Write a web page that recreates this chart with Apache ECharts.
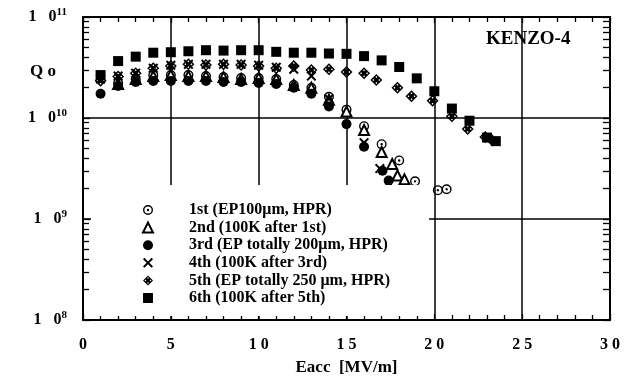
<!DOCTYPE html>
<html>
<head>
<meta charset="utf-8">
<script src="https://cdn.jsdelivr.net/npm/echarts@6/dist/echarts.min.js"></script>
<style>
  html, body {margin: 0; padding: 0; background: #fff;}
  #chart {width: 640px; height: 381px;}
</style>
</head>
<body>
<div id="chart"></div>
<script>
// Eacc [MV/m] and Qo for each test
const names = [
    '1st (EP100\u03bcm, HPR)',
    '2nd (100K after 1st)',
    '3rd (EP totally 200\u03bcm, HPR)',
    '4th (100K after 3rd)',
    '5th (EP totally 250 \u03bcm, HPR)',
    '6th (100K after 5th)'
];
const e1 = [2, 3, 4, 5, 6, 7, 8, 9, 10, 11, 12, 13, 14, 15, 16, 17, 18, 18.9, 20.2, 20.7];
const q1 = [2.22e10, 2.43e10, 2.66e10, 2.66e10, 2.66e10, 2.60e10, 2.54e10, 2.49e10, 2.49e10, 2.43e10,
    2.12e10, 1.99e10, 1.62e10, 1.21e10, 8.3e9, 5.5e9, 3.8e9, 2.36e9, 1.93e9, 1.97e9];
const e2 = [2, 3, 4, 5, 6, 7, 8, 9, 10, 11, 12, 13, 14, 15, 16, 17, 17.6, 17.9, 18.3];
const q2 = [2.17e10, 2.43e10, 2.60e10, 2.66e10, 2.60e10, 2.60e10, 2.54e10, 2.43e10, 2.49e10, 2.43e10,
    2.12e10, 1.99e10, 1.52e10, 1.16e10, 7.6e9, 4.6e9, 3.5e9, 2.7e9, 2.47e9];
const e3 = [1, 2, 3, 4, 5, 6, 7, 8, 9, 10, 11, 12, 13, 14, 15, 16, 17.05, 17.4];
const q3 = [1.74e10, 2.08e10, 2.27e10, 2.32e10, 2.32e10, 2.32e10, 2.32e10, 2.27e10, 2.27e10, 2.22e10,
    2.17e10, 1.99e10, 1.74e10, 1.30e10, 8.7e9, 5.2e9, 3.0e9, 2.4e9];
const e4 = [1, 2, 3, 4, 5, 6, 7, 8, 9, 10, 11, 12, 13, 14, 16, 16.9];
const q4 = [2.43e10, 2.60e10, 2.78e10, 3.11e10, 3.33e10, 3.40e10, 3.40e10, 3.40e10, 3.40e10, 3.33e10,
    3.18e10, 3.04e10, 2.60e10, 1.55e10, 5.7e9, 3.16e9];
const e5 = [1, 2, 3, 4, 5, 6, 7, 8, 9, 10, 11, 12, 13, 14, 15, 16, 16.7, 17.9, 18.7, 19.9, 21, 21.9, 22.9, 23.3];
const q5 = [2.34e10, 2.58e10, 2.78e10, 3.11e10, 3.27e10, 3.40e10, 3.35e10, 3.40e10, 3.35e10, 3.27e10,
    3.11e10, 3.27e10, 2.99e10, 3.04e10, 2.86e10, 2.78e10, 2.38e10, 1.99e10, 1.64e10, 1.48e10,
    1.04e10, 7.8e9, 6.5e9, 6.0e9];
const e6 = [1, 2, 3, 4, 5, 6, 7, 8, 9, 10, 11, 12, 13, 14, 15, 16, 17, 18, 19, 20, 21, 22, 23, 23.5];
const q6 = [2.66e10, 3.66e10, 4.05e10, 4.43e10, 4.48e10, 4.58e10, 4.69e10, 4.65e10, 4.69e10, 4.69e10,
    4.52e10, 4.43e10, 4.43e10, 4.35e10, 4.32e10, 4.10e10, 3.72e10, 3.20e10, 2.47e10, 1.84e10,
    1.24e10, 9.4e9, 6.4e9, 5.9e9];

// axis ticks: decades 10^8..10^11, minor ticks at 2..9 x 10^n (exponent space)
const decades = [8, 9, 10, 11];
const minorExp = [];
[8, 9, 10].forEach(d => { for (let k = 2; k <= 9; k++) minorExp.push(d + Math.log10(k)); });
const allExp = decades.concat(minorExp);

const FONT = 'Liberation Serif';

// symbols
const dotCircle = 'path://M10 0A10 10 0 1 1 10 20A10 10 0 1 1 10 0ZM10 2.8A7.2 7.2 0 1 0 10 17.2A7.2 7.2 0 1 0 10 2.8ZM10 7.6A2.4 2.4 0 1 1 10 12.4A2.4 2.4 0 1 1 10 7.6Z';
const cross = 'path://M0 1.4L1.4 0L5 3.6L8.6 0L10 1.4L6.4 5L10 8.6L8.6 10L5 6.4L1.4 10L0 8.6L3.6 5Z';
const hatchDiamond = 'path://M6 0L12 6L6 12L0 6Z' +
    'M6 2L5 3L6 4L7 3Z' +
    'M9 5L8 6L9 7L10 6Z' +
    'M6 8L5 9L6 10L7 9Z' +
    'M3 5L2 6L3 7L4 6Z';

function pairs(xs, ys) {
    return xs.map((x, i) => [x, ys[i]]);
}

const sets = [
    {x: e1, y: q1, symbol: dotCircle, size: 10},
    {x: e2, y: q2, symbol: 'emptyTriangle', size: 10},
    {x: e3, y: q3, symbol: 'circle', size: 10},
    {x: e4, y: q4, symbol: cross, size: 10},
    {x: e5, y: q5, symbol: hatchDiamond, size: 12},
    {x: e6, y: q6, symbol: 'rect', size: 10}
];

const chart = echarts.init(document.getElementById('chart'));
const black = '#000';
const xAxisBase = {
    type: 'value', min: 0, max: 30, interval: 5,
    axisLine: {lineStyle: {color: black, width: 2}},
    axisTick: {inside: true, length: 6, lineStyle: {color: black, width: 1.3}},
    minorTick: {show: true, splitNumber: 5, length: 5, lineStyle: {color: black, width: 1.3}},
    minorSplitLine: {show: false}
};

chart.setOption({
    backgroundColor: '#fff',
    animation: false,
    grid: {left: 83, right: 30, top: 17, bottom: 56},
    xAxis: [
        Object.assign({}, xAxisBase, {
            position: 'bottom',
            splitLine: {show: true, lineStyle: {color: black, width: 1.5}},
            axisLabel: {
                margin: 17, color: black, fontFamily: FONT, fontWeight: 'bold', fontSize: 16,
                formatter: v => String(v).split('').join(' ')
            },
            name: 'Eacc  [MV/m]', nameLocation: 'middle', nameGap: 39,
            nameTextStyle: {color: black, fontFamily: FONT, fontWeight: 'bold', fontSize: 17}
        }),
        Object.assign({}, xAxisBase, {
            position: 'top',
            splitLine: {show: false},
            axisLabel: {show: false}
        })
    ],
    yAxis: [
        {
            type: 'log', logBase: 10, min: 1e8, max: 1e11, position: 'left',
            axisLine: {lineStyle: {color: black, width: 2}},
            axisTick: {inside: true, length: 7, lineStyle: {color: black, width: 1.3}},
            splitLine: {show: true, lineStyle: {color: black, width: 1.5}},
            axisLabel: {
                margin: 16, color: black, fontFamily: FONT, fontWeight: 'bold', fontSize: 16,
                formatter: v => '{a|1}{b|0}{s|' + Math.round(Math.log10(v)) + '}',
                rich: {
                    a: {fontFamily: FONT, fontWeight: 'bold', fontSize: 16, padding: [0, 12, 0, 0], lineHeight: 20},
                    b: {fontFamily: FONT, fontWeight: 'bold', fontSize: 16, lineHeight: 20},
                    s: {fontFamily: FONT, fontWeight: 'bold', fontSize: 11, verticalAlign: 'top'}
                }
            }
        },
        {
            type: 'value', min: 8, max: 11, position: 'left',
            axisLine: {show: false},
            axisTick: {show: true, inside: true, length: 6, customValues: minorExp, lineStyle: {color: black, width: 1.3}},
            axisLabel: {show: false},
            splitLine: {show: false}
        },
        {
            type: 'value', min: 8, max: 11, position: 'right',
            axisLine: {show: true, lineStyle: {color: black, width: 2}},
            axisTick: {show: true, inside: true, length: 7, customValues: allExp, lineStyle: {color: black, width: 1.3}},
            axisLabel: {show: false},
            splitLine: {show: false}
        }
    ],
    legend: {
        orient: 'vertical',
        left: 91, top: 185,
        backgroundColor: '#fff',
        padding: [17, 39, 10, 51],
        itemGap: 1.6, itemWidth: 10, itemHeight: 10,
        selectedMode: false,
        data: names,
        textStyle: {
            color: black, fontFamily: FONT, fontWeight: 'bold', fontSize: 16, lineHeight: 14,
            padding: [0, 0, 0, 31]
        }
    },
    graphic: [
        {type: 'text', left: 30, top: 63, style: {text: 'Q o', fill: black, font: 'bold 17px "Liberation Serif"'}},
        {type: 'text', left: 486, top: 30, style: {text: 'KENZO-4', fill: black, font: 'bold 19px "Liberation Serif"'}}
    ],
    series: sets.map((s, i) => ({
        name: names[i],
        type: 'scatter',
        xAxisIndex: 0, yAxisIndex: 0,
        symbol: s.symbol,
        symbolSize: s.size,
        itemStyle: {color: black, borderColor: black, borderWidth: s.symbol === 'emptyTriangle' ? 1.5 : 0, opacity: 1},
        data: pairs(s.x, s.y)
    }))
});
</script>
</body>
</html>
